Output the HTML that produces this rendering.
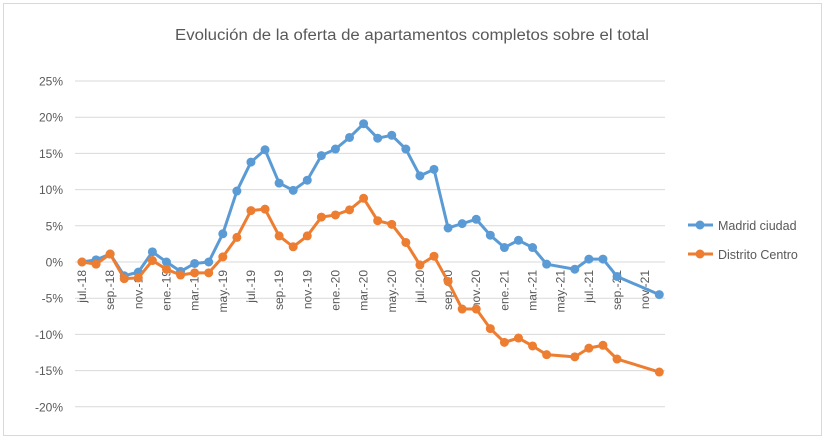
<!DOCTYPE html>
<html><head><meta charset="utf-8"><style>
body{margin:0;background:#fff;width:827px;height:442px;overflow:hidden;font-family:"Liberation Sans",sans-serif}
</style></head><body>
<svg id="chart" width="827" height="442" xmlns="http://www.w3.org/2000/svg">
<rect x="3.5" y="3.5" width="818" height="432" fill="#fff" stroke="#d9d9d9"/>
<text x="412" y="40" text-anchor="middle" font-size="15.5" fill="#595959" textLength="474" lengthAdjust="spacingAndGlyphs">Evolución de la oferta de apartamentos completos sobre el total</text>
<g id="grid"></g><g id="yticks"></g><g id="xticks"></g><g id="series"></g>
<g>
<line x1="688" y1="225" x2="713" y2="225" stroke="#5b9bd5" stroke-width="3"/>
<circle cx="700" cy="225" r="4.5" fill="#5b9bd5"/>
<text x="718" y="230" font-size="12.5" fill="#595959">Madrid ciudad</text>
<line x1="688" y1="254" x2="713" y2="254" stroke="#ed7d31" stroke-width="3"/>
<circle cx="700" cy="254" r="4.5" fill="#ed7d31"/>
<text x="718" y="259" font-size="12.5" fill="#595959">Distrito Centro</text>
</g>
</svg>
<script>
const monthIdx=[0,1,2,3,4,5,6,7,8,9,10,11,12,13,14,15,16,17,18,19,20,21,22,23,24,25,26,27,28,29,30,31,32,33,35,36,37,38,41];
const madrid=[0,0.3,1.1,-1.9,-1.4,1.4,0,-1.3,-0.2,0,3.9,9.8,13.8,15.5,10.9,9.9,11.3,14.7,15.6,17.2,19.1,17.1,17.5,15.6,11.9,12.8,4.7,5.3,5.9,3.7,2.0,3.0,2.0,-0.3,-1.0,0.4,0.4,-2.0,-4.5];
const centro=[0,-0.3,1.1,-2.3,-2.2,0.2,-1.0,-1.8,-1.5,-1.5,0.7,3.4,7.1,7.3,3.6,2.1,3.6,6.2,6.5,7.2,8.8,5.7,5.2,2.7,-0.4,0.8,-2.7,-6.5,-6.5,-9.2,-11.1,-10.5,-11.6,-12.8,-13.1,-11.9,-11.5,-13.4,-15.2];
const xLabels=["jul.-18","sep.-18","nov.-18","ene.-19","mar.-19","may.-19","jul.-19","sep.-19","nov.-19","ene.-20","mar.-20","may.-20","jul.-20","sep.-20","nov.-20","ene.-21","mar.-21","may.-21","jul.-21","sep.-21","nov.-21"];
const yTicks=[25,20,15,10,5,0,-5,-10,-15,-20];
const NS="http://www.w3.org/2000/svg";
const X=i=>82+i*14.08;
const Y=v=>262-v*7.24;
function mk(tag,attrs,parent){const e=document.createElementNS(NS,tag);for(const k in attrs)e.setAttribute(k,attrs[k]);parent.appendChild(e);return e;}
const grid=document.getElementById('grid'),yt=document.getElementById('yticks'),xt=document.getElementById('xticks'),ser=document.getElementById('series');
yTicks.forEach(v=>{
 const l=mk('line',{x1:75,x2:665,y1:Y(v),y2:Y(v),stroke:'#d9d9d9','stroke-width':1},grid);
 
 
 const t=mk('text',{x:63,y:Y(v)+4.5,'text-anchor':'end','font-size':12,fill:'#595959'},yt);
 
 
 t.textContent=v+'%';
});
xLabels.forEach((s,k)=>{
 const x=X(k*2);
 const t=mk('text',{x:0,y:0,transform:`translate(${x+4},${270}) rotate(-90)`,'text-anchor':'end','font-size':12,fill:'#595959'},xt);
 
 
 t.textContent=s;
});
function draw(vals,color,name){
 const g=mk('g',{},ser);
 
 
 const pts=vals.map((v,i)=>X(monthIdx[i])+','+Y(v)).join(' ');
 mk('polyline',{points:pts,fill:'none',stroke:color,'stroke-width':3,'stroke-linejoin':'round'},g);
 vals.forEach((v,i)=>{
  const c=mk('circle',{cx:X(monthIdx[i]),cy:Y(v),r:4.5,fill:color},g);
  
  
 });
}
draw(madrid,'#5b9bd5','series-madrid-ciudad');
draw(centro,'#ed7d31','series-distrito-centro');
</script>
</body></html>
